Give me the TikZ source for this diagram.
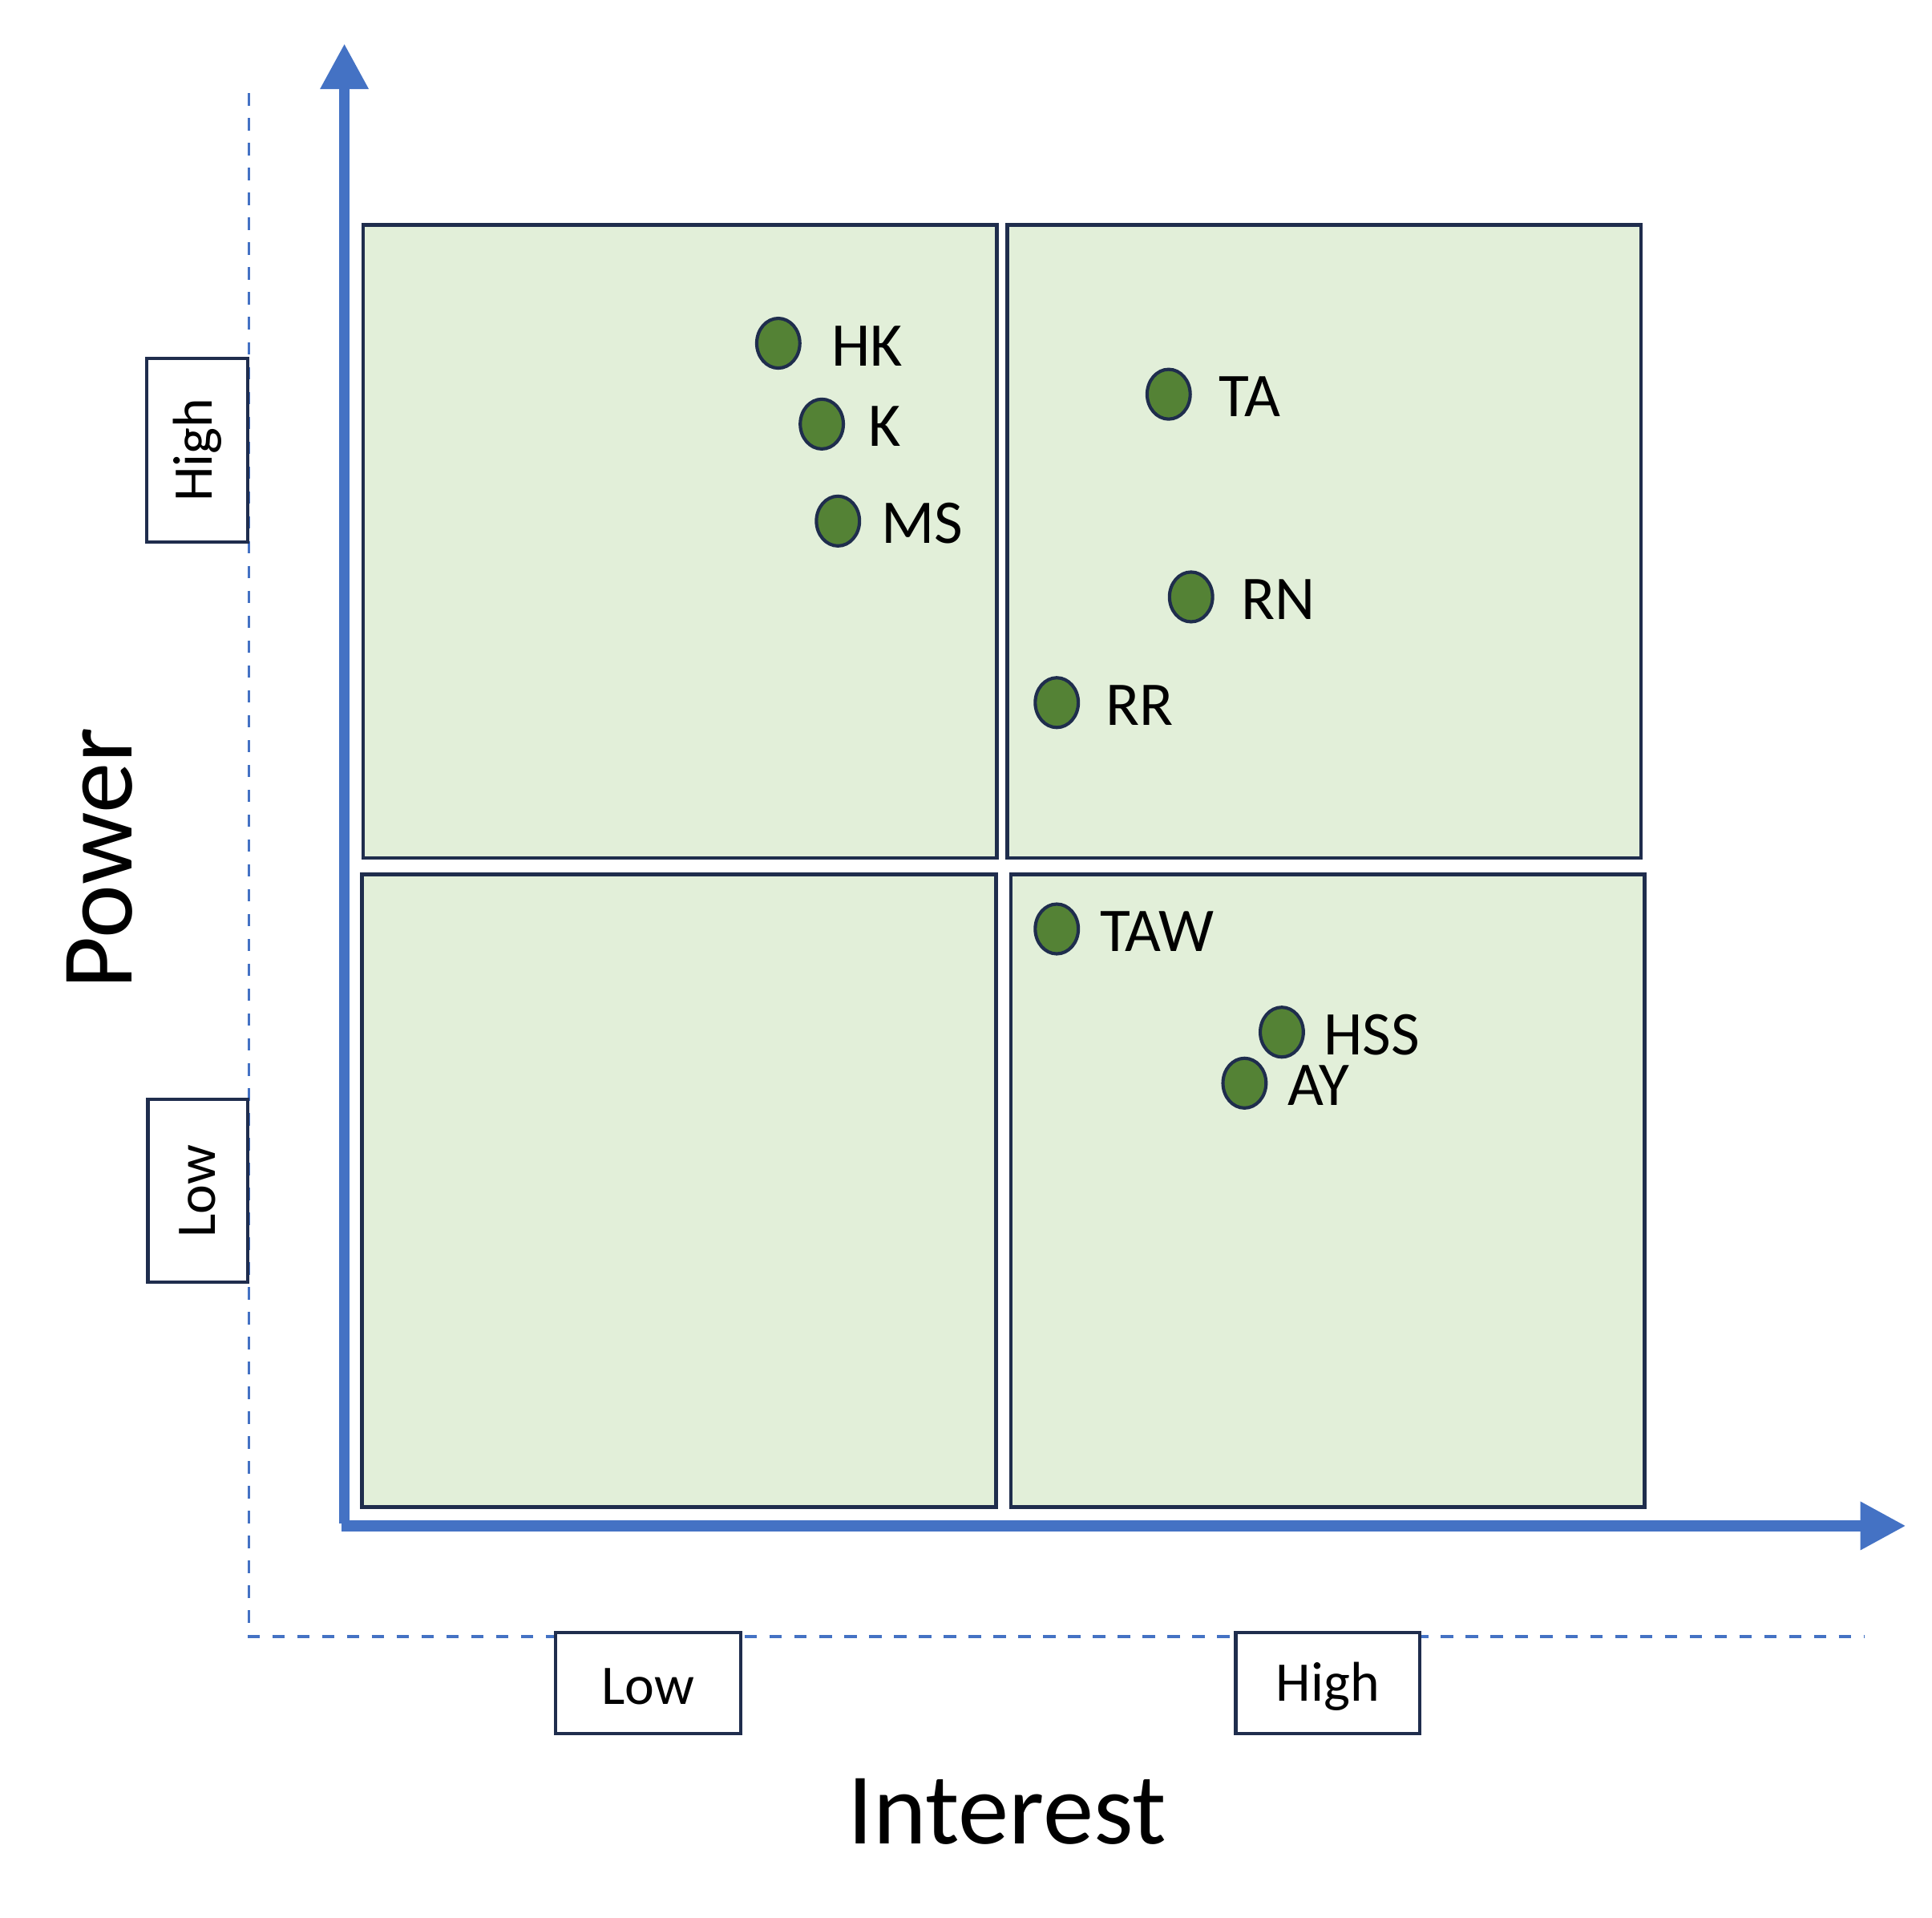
\documentclass[tikz,border=0pt]{standalone}
\usepackage{fontspec}
\setmainfont{Carlito}
\usetikzlibrary{shapes.geometric,arrows.meta}
\definecolor{qfill}{HTML}{E2EFD9}
\definecolor{qline}{HTML}{1F2D4D}
\definecolor{dotf}{HTML}{548235}
\definecolor{axc}{HTML}{4472C4}
\tikzset{
 quad/.style={draw=qline,fill=qfill,line width=0.9pt},
 lbox/.style={draw=qline,line width=0.8pt,fill=white},
 dot/.style={ellipse,draw=qline,fill=dotf,line width=0.8pt,minimum width=10.4pt,minimum height=12pt,inner sep=0pt},
 dlabel/.style={anchor=west,font=\fontsize{15}{18}\selectfont,inner sep=0pt},
 axis/.style={draw=axc,line width=2.6pt,-{Triangle[length=11pt,width=11pt]}},
 dashline/.style={draw=axc,dashed,line width=0.6pt}
}
\begin{document}
\begin{tikzpicture}[x=0.3pt,y=-0.3pt]
\useasboundingbox (0,0) rectangle (1554,1542);
\draw[dashline] (200,75) -- (200,1316) -- (1500,1316);
\draw[quad] (292,181) rectangle (802,690);
\draw[quad] (810,181) rectangle (1320,690);
\draw[quad] (291,703) rectangle (801,1212);
\draw[quad] (813,703) rectangle (1323,1212);
\coordinate (o) at (277,1227);
\coordinate (ytip) at (277,35);
\coordinate (xtip) at (1533,1227);
\draw[axis] (277,1225) -- (ytip);
\draw[axis] (275,1227) -- (xtip);
\draw[lbox] (118,288) rectangle (199,436);
\node[rotate=90,font=\fontsize{13.5}{15}\selectfont] (yh) at (159,362) {High};
\draw[lbox] (119,884) rectangle (199,1031);
\node[rotate=90,font=\fontsize{13.5}{15}\selectfont] (yl) at (159,958) {Low};
\draw[lbox] (447,1313) rectangle (596,1394);
\node[font=\fontsize{13.5}{15}\selectfont] (xl) at (521,1356) {Low};
\draw[lbox] (994,1313) rectangle (1142,1394);
\node[font=\fontsize{13.5}{15}\selectfont] (xh) at (1068,1356) {High};
\node[rotate=90,font=\fontsize{24.5}{28}\selectfont] (pw) at (80,690) {Power};
\node[font=\fontsize{24.5}{28}\selectfont] (in) at (810,1457) {Interest};
\foreach \n/\x/\y/\lx in {HK/626/276/668, K/661/341/698, MS/674/419/708, TA/940/317/980, RN/958/480/998, RR/850/565/889, TAW/850/747/884, HSS/1031/830/1064, AY/1001/871/1035}{
  \node[dot] (d\n) at (\x,\y) {};
  \node[dlabel] (l\n) at (\lx,\y+2) {\n};
}
\end{tikzpicture}
\end{document}
